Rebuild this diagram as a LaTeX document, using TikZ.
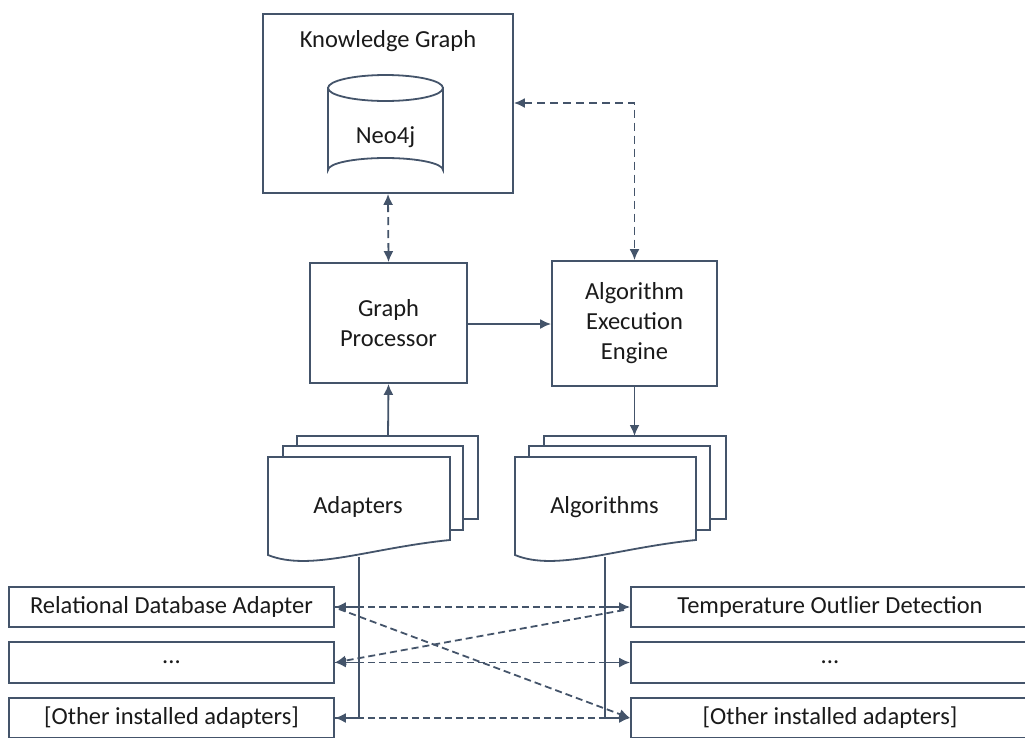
\documentclass[tikz,border=0pt]{standalone}
\usepackage{fontspec}
\setmainfont{Carlito}
\usetikzlibrary{arrows.meta,calc}
\definecolor{edge}{HTML}{44546A}
\definecolor{ink}{HTML}{1A1A1A}
\begin{document}
\begin{tikzpicture}[x=1pt,y=-1pt,
  font=\fontsize{24.5}{30}\selectfont,
  every node/.style={text=ink},
  box/.style={draw=edge,line width=1.8pt,fill=white,inner sep=0pt,align=center},
  link/.style={draw=edge,line width=1.8pt,-{Latex[length=11pt,width=10pt]}},
  dlink/.style={draw=edge,line width=1.8pt,dash pattern=on 8pt off 5pt,{Latex[length=11pt,width=10pt]}-{Latex[length=11pt,width=10pt]}},
  blink/.style={draw=edge,line width=1.8pt,dash pattern=on 7pt off 4pt},
  page/.style={draw=edge,line width=1.8pt,fill=white,line join=miter},
  line/.style={draw=edge,line width=1.8pt}]
\useasboundingbox (0,0) rectangle (1025,737);

% Knowledge graph container with its database cylinder
\node[box,minimum width=250pt,minimum height=179pt] (kg) at (388,103.5) {};
\node (kgtitle) at (388,41) {Knowledge Graph};
\draw[page] (328,88) -- (328,170) arc[start angle=180,end angle=360,x radius=57.5,y radius=12]
  -- (443,88) -- cycle;
\draw[page] (385.5,88) ellipse[x radius=57.5,y radius=13];
\node (neo) at (385.5,137) {Neo4j};

% processing boxes
\node[box,minimum width=157pt,minimum height=120pt] (gp) at (388.5,323) {Graph\\Processor};
\node[box,minimum width=165pt,minimum height=125pt] (aee) at (634.5,323.5) {Algorithm\\Execution\\Engine};

% adapter document stack
\draw[page] (297,436) rectangle (478,519);
\draw[page] (283,446) rectangle (463,530);
\draw[page] (268,457) -- (450,457) -- (450,540) .. controls (370,548) and (310,572) .. (268,555) -- cycle;
\node (adapters) at (358,507) {Adapters};
\coordinate (adtop) at (388,436);
\coordinate (adbot) at (359,557);

% algorithm document stack
\draw[page] (544,436) rectangle (726,519);
\draw[page] (529,446) rectangle (710,530);
\draw[page] (515,457) -- (696,457) -- (696,540) .. controls (616,548) and (556,572) .. (515,555) -- cycle;
\node (algorithms) at (604.5,507) {Algorithms};
\coordinate (altop) at (634.5,436);
\coordinate (albot) at (605,557);

% adapter and algorithm entries
\node[box,minimum width=325pt,minimum height=40pt] (l1) at (171.5,607) {Relational Database Adapter};
\node[box,minimum width=325pt,minimum height=41pt] (l2) at (171.5,662.5) {...};
\node[box,minimum width=325pt,minimum height=40pt] (l3) at (171.5,718) {[Other installed adapters]};
\node[box,minimum width=398pt,minimum height=40pt] (r1) at (830,607) {Temperature Outlier Detection};
\node[box,minimum width=398pt,minimum height=41pt] (r2) at (830,662.5) {...};
\node[box,minimum width=398pt,minimum height=40pt] (r3) at (830,718) {[Other installed adapters]};

% main flow
\draw[dlink] (kg.south) -- (gp.north);
\draw[dlink] (kg.east |- 0,103) -- (634.5,103) -- (aee.north);
\draw[link] (gp.east |- 0,324) -- (aee.west |- 0,324);
\draw[link] (adtop) -- (gp.south);
\draw[link] (aee.south) -- (altop);

% buses from the stacks to their entries
\coordinate (lbus) at (359,718);
\coordinate (rbus) at (605,718);
\draw[line] (adbot) -- (lbus);
\draw[line] (albot) -- (rbus);
\draw[link] (adbot |- l1.east) -- (l1.east);
\draw[link] (adbot |- l2.east) -- (l2.east);
\draw[link] (lbus) -- (l3.east);
\draw[link] (albot |- r1.west) -- (r1.west);
\draw[link] (albot |- r2.west) -- (r2.west);
\draw[link] (rbus) -- (r3.west);

% dashed mappings between entries
\draw[blink] (l1.east) -- (r1.west);
\draw[blink] (l2.east) -- (r2.west);
\draw[blink] (l3.east) -- (r3.west);
\draw[blink,-{Latex[length=11pt,width=10pt]}] ($(l1.east)+(4,2)$) -- (r3.west);
\draw[blink,-{Latex[length=11pt,width=10pt]}] ($(r1.west)+(-6,3)$) -- (l2.east);
\end{tikzpicture}
\end{document}
